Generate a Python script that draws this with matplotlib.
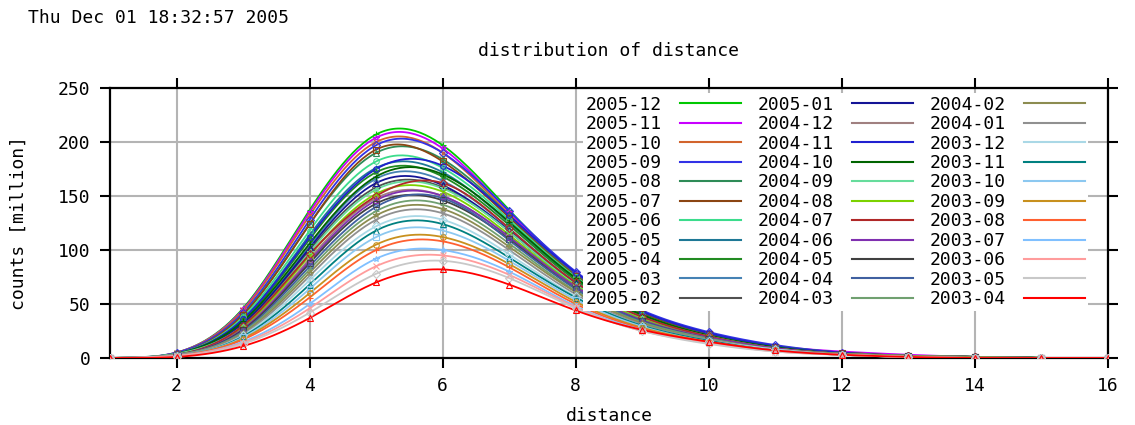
import numpy as np
import matplotlib
matplotlib.use("Agg")
import matplotlib.pyplot as plt
from matplotlib.lines import Line2D

plt.rcParams['font.family'] = ['DejaVu Sans Mono']

distance = np.arange(1, 17)

months = ["2005-12", "2005-11", "2005-10", "2005-09", "2005-08", "2005-07",
          "2005-06", "2005-05", "2005-04", "2005-03", "2005-02",
          "2005-01", "2004-12", "2004-11", "2004-10", "2004-09", "2004-08",
          "2004-07", "2004-06", "2004-05", "2004-04", "2004-03",
          "2004-02", "2004-01", "2003-12", "2003-11", "2003-10", "2003-09",
          "2003-08", "2003-07", "2003-06", "2003-05", "2003-04"]

colors = ["#00c800", "#c800ff", "#d2642d", "#3232e6", "#2e8b57", "#8b4513",
          "#3cdc8c", "#1e7896", "#228b22", "#4682b4", "#505050",
          "#141496", "#a08080", "#2020d0", "#006400", "#66dc9c", "#7cd200",
          "#b02828", "#8030b0", "#404040", "#4060a0", "#70a070",
          "#8c8c50", "#909090", "#aad8e6", "#008080", "#8cc8f0", "#c8901e",
          "#ff6030", "#80c0ff", "#ff9c9c", "#c8c8c8", "#ff0000"]

# counts [million] at distance 1..16, one row per month
counts = [
    [0, 5, 46, 137, 207, 197, 137, 79, 43, 23, 11, 5, 2, 1, 0, 0],
    [0, 5, 45, 135, 204, 194, 135, 78, 42, 22, 11, 6, 3, 1, 0, 0],
    [0, 5, 44, 132, 200, 190, 133, 77, 42, 22, 10, 5, 2, 1, 0, 0],
    [0, 5, 42, 128, 197, 190, 136, 80, 44, 24, 12, 5, 2, 1, 0, 0],
    [0, 4, 40, 124, 190, 184, 132, 77, 42, 22, 11, 5, 2, 1, 0, 0],
    [0, 4, 40, 124, 193, 182, 130, 76, 41, 22, 10, 5, 2, 1, 0, 0],
    [0, 4, 38, 118, 182, 176, 128, 75, 40, 21, 10, 4, 2, 1, 0, 0],
    [0, 4, 36, 114, 176, 172, 125, 73, 39, 21, 10, 4, 2, 1, 0, 0],
    [0, 4, 35, 110, 172, 168, 123, 72, 39, 20, 10, 4, 2, 1, 0, 0],
    [0, 4, 33, 104, 166, 164, 120, 70, 38, 20, 9, 4, 2, 1, 0, 0],
    [0, 4, 31, 100, 158, 158, 117, 68, 37, 19, 9, 4, 2, 1, 0, 0],
    [0, 4, 32, 102, 162, 160, 118, 69, 37, 20, 9, 4, 2, 1, 0, 0],
    [0, 3, 28, 92, 148, 150, 112, 66, 36, 19, 9, 4, 2, 1, 0, 0],
    [0, 4, 36, 112, 175, 178, 132, 79, 43, 23, 11, 5, 2, 1, 0, 0],
    [0, 4, 34, 106, 168, 170, 126, 74, 40, 21, 10, 4, 2, 1, 0, 0],
    [0, 4, 30, 98, 156, 157, 117, 68, 37, 20, 9, 4, 2, 1, 0, 0],
    [0, 3, 29, 95, 152, 154, 114, 67, 36, 19, 9, 4, 2, 1, 0, 0],
    [0, 3, 30, 96, 150, 162, 120, 70, 38, 20, 9, 4, 2, 1, 0, 0],
    [0, 3, 27, 90, 146, 150, 112, 66, 35, 19, 9, 4, 2, 1, 0, 0],
    [0, 3, 26, 88, 143, 146, 110, 64, 34, 18, 8, 4, 2, 1, 0, 0],
    [0, 3, 25, 85, 140, 148, 109, 64, 34, 18, 8, 4, 2, 1, 0, 0],
    [0, 3, 24, 82, 136, 142, 106, 62, 33, 18, 8, 4, 2, 1, 0, 0],
    [0, 3, 23, 79, 132, 138, 103, 61, 32, 17, 8, 4, 2, 1, 0, 0],
    [0, 3, 22, 76, 128, 134, 100, 59, 31, 17, 8, 3, 1, 0, 0, 0],
    [0, 2, 21, 72, 122, 128, 96, 57, 30, 16, 8, 3, 1, 0, 0, 0],
    [0, 2, 20, 68, 118, 124, 93, 56, 30, 16, 7, 3, 1, 0, 0, 0],
    [0, 2, 19, 64, 112, 118, 90, 54, 29, 15, 7, 3, 1, 0, 0, 0],
    [0, 2, 18, 60, 105, 112, 87, 52, 28, 15, 7, 3, 1, 0, 0, 0],
    [0, 2, 17, 56, 100, 108, 84, 50, 27, 14, 7, 3, 1, 0, 0, 0],
    [0, 2, 15, 50, 92, 100, 80, 48, 26, 14, 7, 3, 1, 0, 0, 0],
    [0, 2, 14, 46, 85, 95, 77, 47, 25, 14, 6, 3, 1, 0, 0, 0],
    [0, 1, 13, 42, 78, 90, 74, 46, 25, 13, 6, 3, 1, 0, 0, 0],
    [0, 1, 11, 37, 70, 82, 68, 44, 26, 15, 7, 3, 1, 0, 0, 0],
]

markers = ['+', '*', 'x', 'D', '^', 's', 'o']


def natural_spline(x, y, xs):
    # natural cubic spline, only for drawing the smooth curves
    x = np.asarray(x, float)
    y = np.asarray(y, float)
    n = len(x)
    h = np.diff(x)
    A = np.zeros((n, n))
    b = np.zeros(n)
    A[0, 0] = A[-1, -1] = 1
    for i in range(1, n - 1):
        A[i, i - 1] = h[i - 1]
        A[i, i] = 2 * (h[i - 1] + h[i])
        A[i, i + 1] = h[i]
        b[i] = 6 * ((y[i + 1] - y[i]) / h[i] - (y[i] - y[i - 1]) / h[i - 1])
    M = np.linalg.solve(A, b)
    k = np.clip(np.searchsorted(x, xs) - 1, 0, n - 2)
    t0 = x[k + 1] - xs
    t1 = xs - x[k]
    hk = h[k]
    return (M[k] * t0 ** 3 / (6 * hk) + M[k + 1] * t1 ** 3 / (6 * hk)
            + (y[k] / hk - M[k] * hk / 6) * t0
            + (y[k + 1] / hk - M[k + 1] * hk / 6) * t1)


fig = plt.figure(figsize=(11.35, 4.25), dpi=100)
ax = fig.add_axes([110 / 1135, 1 - 358 / 425, 998 / 1135, 270 / 425])

xs = np.linspace(1, 16, 400)
handles = []
for i, (m, c, vals) in enumerate(zip(months, colors, counts)):
    ys = np.clip(natural_spline(distance, vals, xs), 0, None)
    ax.plot(xs, ys, color=c, lw=1.3, zorder=3)
    ax.plot(distance, vals, linestyle='none', marker=markers[i % len(markers)],
            ms=4, mfc='none', mec=c, mew=0.8, zorder=4)
    handles.append(Line2D([], [], color=c, lw=1.5))

ax.set_xlim(1, 16)
ax.set_ylim(0, 250)
ax.set_xticks([2, 4, 6, 8, 10, 12, 14, 16])
ax.set_yticks([0, 50, 100, 150, 200, 250])
ax.grid(True, color='#b4b4b4', lw=1.5, zorder=1)
for s in ax.spines.values():
    s.set_linewidth(1.6)
ax.tick_params(axis='both', which='major', labelsize=13, width=1.5,
               length=7, direction='out', top=True, right=True, pad=7)
ax.tick_params(axis='y', which='major', right=True, labelright=False)

ax.set_title("distribution of distance", fontsize=13, pad=23)
ax.set_xlabel("distance", fontsize=13, labelpad=8)
ax.set_ylabel("counts [million]", fontsize=13, labelpad=22)
fig.text(28 / 1135, 1 - 18 / 425, "Thu Dec 01 18:32:57 2005", fontsize=13,
         va='center', ha='left')

leg = ax.legend(handles, months, ncol=3, loc='upper left',
                bbox_to_anchor=(583 / 1135, 1 - 93 / 425),
                bbox_transform=fig.transFigure, markerfirst=False,
                fontsize=13, frameon=True, fancybox=False, framealpha=1,
                edgecolor='none', borderpad=0.15, borderaxespad=0,
                handlelength=3.4, handletextpad=1.0, columnspacing=0.9,
                labelspacing=0.08)
leg.set_zorder(5)

fig.savefig("out.png", dpi=100)
